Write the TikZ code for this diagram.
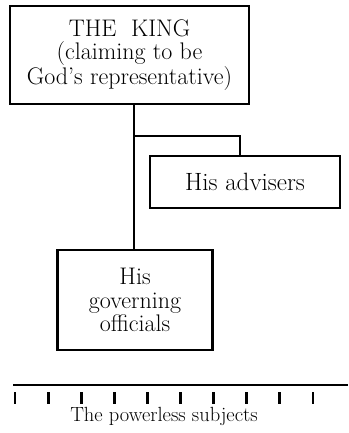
\documentclass[tikz,border=0pt]{standalone}
\begin{document}
\begin{tikzpicture}[x=1pt,y=-1pt,
  box/.style={draw,line width=2.6pt,inner sep=0pt,align=center,font=\fontsize{24}{23.5}\selectfont},
  conn/.style={line width=2.4pt},
  tick/.style={line width=2.8pt}]
\useasboundingbox (0,0) rectangle (348,433);
\node[box,minimum width=239pt,minimum height=98pt] (king) at (129.5,55)
  {THE\ \ KING\\(claiming to be\\God's representative)};
\node[box,minimum width=190pt,minimum height=52pt,font=\fontsize{25}{24}\selectfont] (adv) at (245,182) {His advisers};
\node[box,minimum width=155pt,minimum height=100pt] (off) at (135,300) {His\\governing\\officials};
\coordinate (j) at (134,136);
\coordinate (a) at (240,136);
\draw[conn] (king.south -| j) -- (off.north -| j);
\draw[conn] (j) -- (a) -- (a |- adv.north);
\coordinate (l0) at (13,385);
\coordinate (l1) at (348,385);
\draw[line width=2.4pt] (l0) -- (l1);
\foreach \k in {0,...,9}{
  \coordinate (t\k) at ({15+33.1*\k},392);
  \draw[tick] (t\k) -- ++(0,12);
}
\node[font=\fontsize{20.5}{22}\selectfont] (subj) at (164,416) {The powerless subjects};
\end{tikzpicture}
\end{document}
